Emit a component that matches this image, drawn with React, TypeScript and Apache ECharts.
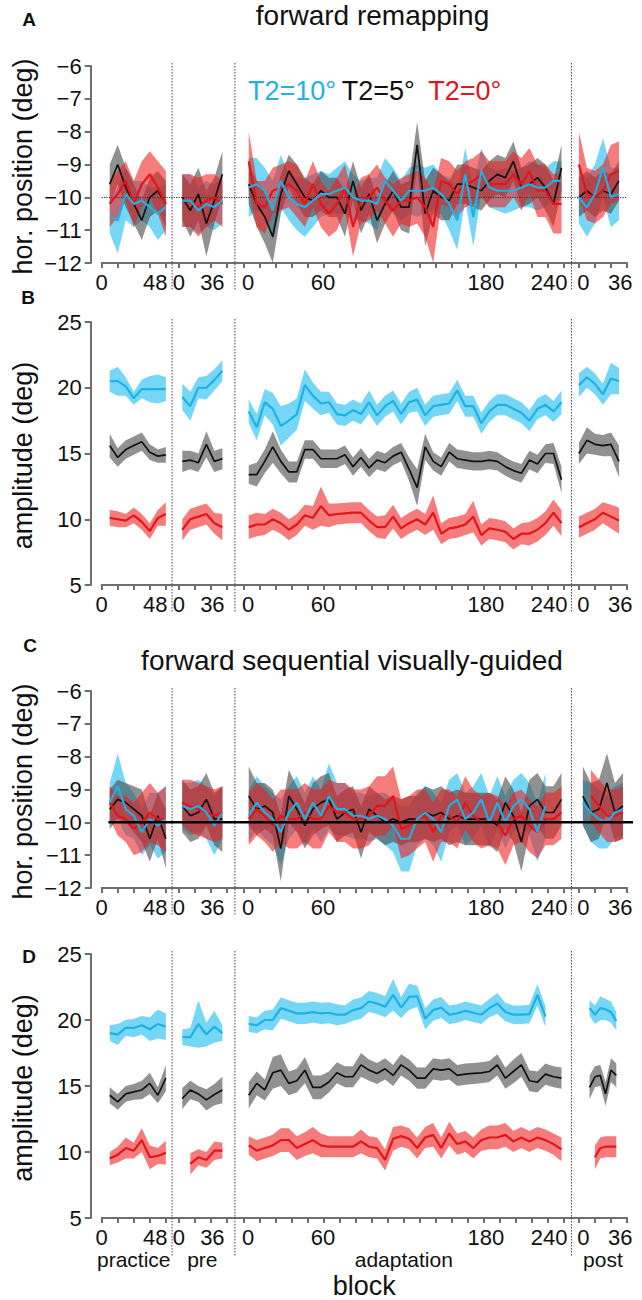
import React, { useEffect, useRef } from 'react';
import * as echarts from 'echarts';

const FONT = '"Liberation Sans", Arial, Helvetica, sans-serif';

// ---- x positions (block numbers inside each segment) ----
const practiceBlocks = [6, 12, 18, 24, 30, 36, 42, 48];
const preBlocks = [3, 9, 15, 21, 27, 33];
const adaptBlocks = [4, 10, 16, 22, 28, 34, 40, 46, 52, 58, 64, 70, 76, 82, 88, 94, 100, 106, 112, 118,
  124, 130, 136, 142, 148, 154, 160, 166, 172, 178, 184, 190, 196, 202, 208, 214, 220, 226, 232, 238];
const postBlocksA = [0, 6, 12, 18, 24, 30];
const postBlocksB = [0, 6, 12, 18, 24, 30];
const postBlocksC = [3, 9, 15, 21, 27, 33];
const postBlocksD = [8, 12, 16, 20, 24, 28];

// ---- axis ticks per segment ----
const practiceTicks = [0, 12, 24, 36, 48];
const preTicks = [0, 12, 24, 36];
const adaptTicks = [0, 12, 24, 36, 48, 60, 72, 84, 96, 108, 120, 132, 144, 156, 168, 180, 192, 204, 216, 228, 240];
const postTicks = [0, 12, 24, 36];

// ---- tick labels per segment: [position in segment, text] ----
const practiceLabels: [number, string][] = [[0, '0'], [40, '48']];
const preLabels: [number, string][] = [[0.5, '0'], [25.5, '36']];
const adaptLabels: [number, string][] = [[3.5, '0'], [59.6, '60'], [181.4, '180'], [228.8, '240']];
const postLabels: [number, string][] = [[3.3, '0'], [31, '36']];

const segmentNames = ['practice', 'pre', 'adaptation', 'post'];

// ---- Panel A: forward remapping, horizontal position ----
const A_cyanMean = [
  [-10.6, -10.7, -9.9, -10.2, -10.1, -10.3, -10.5, -10.3],
  [-10.1, -10.1, -10.4, -10.2, -10.3, -10.1],
  [-9.7, -9.6, -9.8, -10.4, -9.5, -10.0, -10.2, -10.3, -10.1, -9.9, -9.9, -9.8, -9.7, -10.0, -10.1, -10.1, -10.2, -9.5, -9.8, -10.1,
    -9.8, -9.8, -9.8, -9.7, -9.9, -10.2, -10.7, -9.3, -10.6, -9.2, -9.7, -9.8, -9.8, -9.8, -9.7, -9.6, -9.7, -9.7, -9.5, -9.5],
  [-10.0, -10.3, -9.9, -9.1, -10.0, -9.9],
];
const A_cyanErr = [
  [0.5, 1.0, 0.8, 0.7, 0.6, 0.6, 0.8, 0.7],
  [0.8, 0.8, 0.7, 0.7, 0.7, 0.7],
  [0.9, 0.8, 0.7, 0.9, 0.8, 0.7, 0.8, 0.9, 0.8, 0.7, 0.6, 0.7, 0.8, 0.7, 0.6, 0.7, 0.8, 0.7, 0.7, 0.6,
    0.7, 0.8, 0.7, 0.7, 0.6, 0.8, 0.9, 0.8, 0.9, 0.7, 0.6, 0.6, 0.7, 0.6, 0.6, 0.7, 0.7, 0.6, 0.6, 0.6],
  [0.8, 0.9, 0.9, 0.9, 0.9, 0.8],
];
const A_blackMean = [
  [-9.6, -9.0, -9.7, -10.2, -10.7, -10.0, -9.8, -10.2],
  [-10.0, -10.4, -9.9, -10.8, -10.1, -9.3],
  [-9.6, -10.2, -10.6, -11.2, -9.9, -9.2, -9.6, -10.0, -10.1, -9.8, -10.0, -10.0, -10.5, -9.5, -10.4, -9.9, -10.7, -10.2, -9.8, -10.3,
    -10.3, -8.4, -10.5, -9.8, -10.0, -10.1, -9.6, -9.6, -9.7, -9.8, -9.5, -9.3, -9.4, -8.9, -9.7, -9.6, -9.4, -9.7, -10.2, -9.1],
  [-10.0, -9.8, -10.0, -9.8, -9.9, -9.5],
];
const A_blackErr = [
  [0.6, 0.6, 0.6, 0.6, 0.6, 0.6, 0.6, 0.7],
  [0.7, 0.8, 0.8, 1.0, 0.7, 0.7],
  [0.6, 0.7, 0.8, 0.8, 0.6, 0.5, 0.6, 0.6, 0.5, 0.6, 0.6, 0.6, 0.7, 0.6, 0.7, 0.6, 0.7, 0.6, 0.6, 0.7,
    0.8, 0.7, 1.0, 0.7, 0.7, 0.6, 0.6, 0.6, 0.6, 0.6, 0.6, 0.6, 0.6, 0.6, 0.6, 0.6, 0.6, 0.7, 0.7, 0.7],
  [0.6, 0.6, 0.6, 0.6, 0.6, 0.6],
];
const A_redMean = [
  [-10.2, -9.9, -9.5, -10.2, -9.6, -9.3, -9.7, -10.2],
  [-10.1, -10.1, -10.3, -10.1, -10.0, -10.2],
  [-8.9, -10.2, -10.3, -9.8, -9.7, -9.6, -9.8, -10.2, -9.6, -10.2, -10.5, -10.2, -9.7, -10.9, -10.1, -10.0, -9.7, -10.1, -10.4, -10.1,
    -10.1, -10.0, -10.3, -10.9, -9.5, -9.6, -9.9, -9.6, -9.5, -9.3, -9.6, -9.6, -9.6, -9.3, -9.6, -9.2, -9.8, -9.8, -10.2, -10.2],
  [-9.0, -9.9, -10.0, -9.8, -9.3, -9.2],
];
const A_redErr = [
  [0.7, 0.7, 0.6, 0.7, 0.7, 0.7, 0.8, 1.0],
  [0.8, 0.8, 0.9, 0.8, 0.7, 0.7],
  [0.9, 0.7, 0.8, 0.7, 0.7, 0.7, 0.8, 0.7, 0.7, 0.7, 0.7, 0.8, 0.7, 0.9, 0.7, 0.7, 0.7, 0.7, 0.8, 0.7,
    0.8, 0.8, 0.9, 1.1, 0.7, 0.7, 0.7, 0.7, 0.7, 0.7, 0.7, 0.7, 0.7, 0.7, 0.8, 0.7, 0.8, 0.8, 0.9, 0.9],
  [1.0, 0.8, 0.8, 0.8, 0.9, 0.9],
];

// ---- Panel B: forward remapping, amplitude ----
const B_cyanMean = [
  [20.5, 20.5, 20.1, 19.2, 19.9, 19.9, 19.9, 19.9],
  [19.3, 18.6, 20.0, 20.0, 20.6, 21.3],
  [18.2, 17.0, 18.9, 18.4, 17.1, 17.5, 18.0, 20.2, 19.4, 18.8, 18.9, 18.0, 17.9, 18.3, 18.0, 18.9, 17.9, 18.6, 19.0, 18.0,
    18.9, 19.1, 17.9, 18.6, 18.7, 18.8, 19.8, 18.6, 18.6, 17.3, 18.2, 18.7, 18.7, 18.4, 18.1, 17.5, 18.4, 18.7, 18.2, 18.9],
  [20.2, 20.8, 20.3, 19.5, 20.7, 20.5],
];
const B_cyanErr = [
  [0.8, 1.1, 0.7, 0.5, 0.7, 1.0, 1.1, 0.9],
  [1.0, 1.1, 0.8, 0.9, 0.8, 0.8],
  [0.9, 1.0, 1.0, 1.2, 1.5, 1.3, 1.2, 1.2, 1.0, 0.9, 0.8, 0.8, 0.8, 0.8, 0.8, 0.9, 0.8, 0.8, 0.8, 0.8,
    0.8, 0.9, 0.8, 0.8, 0.8, 0.8, 0.8, 0.8, 0.8, 0.8, 0.8, 0.8, 0.8, 0.8, 0.8, 0.8, 0.8, 0.8, 0.8, 0.9],
  [0.9, 0.8, 0.8, 0.8, 1.2, 1.0],
];
const B_blackMean = [
  [15.6, 14.7, 15.3, 15.6, 15.9, 15.1, 14.8, 14.9],
  [14.4, 14.5, 14.3, 15.7, 14.4, 14.6],
  [13.4, 13.4, 14.4, 15.5, 14.4, 13.6, 13.6, 15.3, 15.3, 14.6, 14.6, 14.6, 14.9, 14.0, 14.7, 13.9, 14.5, 14.3, 14.8, 15.1,
    13.8, 12.4, 15.5, 14.4, 14.0, 15.1, 14.6, 14.5, 14.4, 14.4, 14.5, 14.4, 14.0, 13.7, 13.5, 14.5, 14.2, 15.0, 15.0, 13.0],
  [15.0, 16.0, 15.7, 15.6, 15.7, 14.4],
];
const B_blackErr = [
  [0.9, 0.7, 0.7, 0.7, 0.7, 0.6, 0.5, 0.6],
  [0.8, 0.7, 0.7, 1.0, 0.8, 0.8],
  [0.7, 0.9, 0.9, 1.2, 0.9, 0.8, 0.8, 0.7, 0.7, 0.7, 0.7, 0.7, 0.7, 0.7, 0.7, 0.7, 0.7, 0.7, 0.7, 0.7,
    0.9, 1.4, 1.0, 0.7, 0.7, 0.7, 0.7, 0.7, 0.7, 0.7, 0.7, 0.7, 0.7, 0.7, 0.7, 0.7, 0.7, 0.7, 0.8, 1.0],
  [0.8, 1.0, 0.8, 0.8, 0.9, 1.2],
];
const B_redMean = [
  [10.1, 10.0, 9.9, 10.3, 9.8, 9.1, 10.1, 10.4],
  [9.2, 10.0, 10.2, 10.4, 9.7, 9.4],
  [9.4, 9.6, 9.6, 10.0, 9.7, 9.2, 9.6, 10.3, 10.1, 11.0, 10.3, 10.4, 10.45, 10.5, 10.5, 9.9, 9.4, 9.4, 10.2, 9.3,
    9.7, 10.0, 9.6, 10.5, 8.9, 9.3, 9.4, 9.6, 10.2, 8.8, 9.3, 9.2, 9.05, 8.5, 8.9, 8.9, 9.2, 9.7, 10.5, 9.7],
  [9.4, 9.7, 10.0, 10.5, 10.2, 9.9],
];
const B_redErr = [
  [0.6, 0.6, 0.5, 0.6, 0.6, 0.6, 0.6, 0.9],
  [0.8, 0.8, 0.8, 0.8, 0.8, 1.0],
  [0.9, 0.9, 0.8, 0.8, 0.8, 0.8, 0.8, 0.8, 0.9, 1.5, 0.9, 0.8, 0.8, 0.8, 0.8, 0.8, 0.8, 0.9, 0.9, 0.8,
    0.8, 0.8, 0.8, 1.3, 0.8, 0.8, 0.8, 0.8, 1.2, 0.8, 0.8, 0.8, 0.8, 0.8, 0.8, 0.9, 0.9, 0.9, 1.0, 1.0],
  [0.8, 0.8, 0.8, 0.8, 0.9, 1.0],
];

// ---- Panel C: forward sequential visually-guided, horizontal position ----
const C_cyanMean = [
  [-9.4, -8.9, -9.6, -9.8, -10.3, -9.9, -10.1, -9.9],
  [-9.5, -9.6, -9.5, -9.7, -10.1, -9.7],
  [-9.8, -9.4, -9.7, -9.9, -10.3, -9.7, -9.4, -9.9, -9.4, -9.8, -9.2, -9.6, -9.6, -9.8, -9.8, -9.9, -9.8, -9.9, -10.1, -10.5,
    -10.5, -9.9, -9.7, -9.9, -10.3, -9.5, -9.3, -9.9, -9.7, -9.3, -10.0, -9.4, -10.0, -9.5, -9.3, -9.6, -10.3, -9.5, null, null],
  [-9.4, -9.7, -9.9, -10.0, -9.7, -9.6],
];
const C_cyanErr = [
  [0.6, 1.0, 0.8, 0.7, 0.7, 0.8, 1.0, 1.0],
  [0.7, 0.8, 0.8, 0.8, 0.9, 0.8],
  [0.8, 0.8, 0.8, 0.8, 1.0, 0.8, 0.8, 0.8, 0.8, 0.8, 1.0, 0.8, 0.8, 0.7, 0.7, 0.7, 0.7, 0.8, 0.8, 1.0,
    1.0, 0.8, 0.8, 0.8, 0.9, 0.8, 0.8, 0.8, 0.8, 0.8, 0.8, 0.8, 0.8, 0.8, 0.8, 0.8, 0.9, 1.0, null, null],
  [0.7, 0.9, 0.9, 0.8, 0.8, 0.8],
];
const C_blackMean = [
  [-9.6, -9.3, -9.4, -9.6, -9.8, -10.5, -9.8, -10.5],
  [-9.5, -9.8, -9.7, -9.3, -9.9, -9.9],
  [-9.2, -9.6, -9.5, -9.7, -10.8, -9.2, -9.6, -10.1, -9.6, -9.4, -9.3, -9.9, -9.7, -9.6, -10.3, -9.6, -9.8, -10.0, -9.9, -10.0,
    -9.9, -9.9, -9.7, -9.8, -9.7, -9.9, -9.8, -9.9, -9.9, -9.9, -9.9, -10.1, -9.4, -9.8, -10.6, -9.5, -9.3, -9.7, -9.7, -9.3],
  [-9.2, -9.7, -9.6, -8.8, -9.7, -9.5],
];
const C_blackErr = [
  [0.6, 0.6, 0.6, 0.7, 0.8, 0.7, 0.7, 0.9],
  [0.8, 0.8, 0.8, 0.8, 0.8, 1.0],
  [0.9, 0.8, 0.7, 0.7, 1.0, 0.8, 0.7, 0.7, 0.8, 0.8, 0.8, 0.7, 0.7, 0.7, 0.8, 0.7, 0.7, 0.7, 0.7, 0.7,
    0.7, 0.7, 0.8, 0.8, 0.8, 0.8, 0.8, 0.8, 0.8, 0.8, 0.8, 0.8, 0.8, 0.8, 0.9, 0.8, 0.8, 0.8, 0.8, 0.8],
  [0.9, 0.9, 0.9, 0.9, 0.9, 1.0],
];
const C_redMean = [
  [-9.4, -9.8, -9.9, -10.2, -10.0, -9.7, -9.9, -9.9],
  [-9.4, -9.5, -9.6, -9.7, -9.8, -9.7],
  [-9.9, -9.6, -9.8, -10.1, -9.8, -9.9, -9.9, -9.7, -9.9, -9.9, -9.5, -9.7, -9.7, -9.9, -9.9, -9.8, -9.5, -9.5, -9.2, -10.2,
    -10.1, -9.9, -9.8, -10.3, -9.8, -9.8, -10.0, -9.4, -9.8, -10.0, -9.9, -10.0, -10.4, -9.9, -9.8, -10.1, -10.3, -9.9, -9.9, -9.7],
  [null, -9.2, -9.5, -9.8, -9.8, -9.7],
];
const C_redErr = [
  [0.5, 0.6, 0.7, 0.8, 0.9, 0.9, 0.8, 1.0],
  [0.7, 0.8, 0.8, 0.8, 0.8, 0.8],
  [0.8, 0.8, 0.8, 0.8, 0.8, 0.9, 0.9, 0.9, 0.9, 0.9, 0.8, 0.9, 0.9, 0.9, 0.9, 0.9, 0.9, 0.9, 0.9, 0.9,
    0.9, 0.9, 0.8, 0.9, 0.8, 0.8, 0.8, 0.8, 0.8, 0.8, 0.8, 0.8, 0.9, 0.8, 0.8, 0.8, 0.8, 0.8, 0.8, 0.8],
  [null, 0.8, 0.8, 0.8, 0.8, 0.8],
];

// ---- Panel D: forward sequential visually-guided, amplitude ----
const D_cyanMean = [
  [19.0, 18.9, 19.4, 19.4, 19.6, 19.3, 19.7, 19.5],
  [18.7, 18.7, 19.7, 18.9, 19.5, 19.0],
  [19.7, 19.6, 20.0, 20.0, 20.9, 20.7, 20.5, 20.5, 20.6, 20.5, 20.55, 20.4, 20.4, 20.75, 20.9, 21.4, 21.25, 21.0, 21.9, 20.95,
    21.75, 21.8, 20.1, 20.75, 20.95, 20.4, 20.5, 20.7, 20.55, 20.4, 20.9, 21.25, 20.6, 20.4, 20.4, 20.45, 21.9, 20.25, null, null],
  [20.9, 20.4, 20.9, 20.8, 20.6, 19.9],
];
const D_cyanErr = [
  [0.6, 0.8, 0.6, 0.7, 0.7, 0.9, 1.1, 1.0],
  [0.6, 0.7, 1.8, 0.9, 1.2, 0.6],
  [0.6, 0.6, 0.7, 0.8, 0.8, 0.8, 0.8, 0.8, 0.8, 0.8, 0.8, 0.8, 0.7, 0.8, 0.8, 0.8, 0.8, 0.8, 1.2, 0.8,
    1.0, 0.8, 0.8, 0.8, 0.8, 0.7, 0.7, 0.7, 0.7, 0.7, 0.7, 0.8, 0.7, 0.7, 0.7, 0.7, 0.8, 0.8, null, null],
  [0.6, 0.7, 0.9, 0.8, 0.8, 0.7],
];
const D_blackMean = [
  [14.3, 13.8, 14.4, 14.55, 14.7, 15.2, 14.3, 15.6],
  [14.05, 14.7, 14.4, 13.95, 14.35, 14.7],
  [14.3, 15.2, 14.7, 16.0, 16.2, 15.2, 15.4, 16.2, 14.9, 14.9, 15.3, 16.0, 15.7, 15.7, 16.6, 16.2, 15.95, 16.3, 15.8, 16.6,
    16.2, 15.6, 15.6, 16.3, 16.2, 16.3, 15.8, 15.9, 15.95, 16.0, 16.1, 16.6, 15.6, 16.1, 16.6, 15.4, 15.3, 15.9, 15.7, 15.6],
  [14.9, 15.7, 15.8, 14.4, 16.2, 15.8],
];
const D_blackErr = [
  [0.6, 0.6, 0.6, 0.6, 0.7, 0.8, 0.6, 1.0],
  [0.8, 0.7, 0.6, 0.8, 0.8, 1.0],
  [1.0, 0.9, 0.8, 1.2, 1.2, 0.9, 0.9, 1.0, 0.9, 0.9, 0.8, 0.8, 0.8, 0.8, 0.9, 0.8, 0.8, 0.8, 0.8, 0.8,
    0.8, 0.8, 0.8, 0.8, 0.8, 0.8, 0.8, 0.8, 0.8, 0.8, 0.8, 0.8, 0.8, 0.9, 0.9, 0.8, 0.8, 0.8, 0.8, 0.8],
  [0.9, 0.8, 0.8, 0.9, 0.9, 0.9],
];
const D_redMean = [
  [9.5, 9.8, 10.3, 10.1, 10.9, 9.6, 9.7, 9.95],
  [null, 9.1, 9.6, 9.4, 10.1, 10.1],
  [10.5, 10.1, 10.3, 10.5, 10.9, 10.9, 10.3, 10.6, 10.9, 10.5, 10.4, 10.4, 10.4, 10.4, 10.8, 10.4, 10.3, 9.4, 11.0, 11.2,
    11.0, 10.3, 11.1, 11.3, 10.3, 11.4, 10.6, 10.8, 10.3, 10.9, 11.1, 11.1, 11.3, 10.8, 11.1, 10.8, 11.1, 10.9, 10.6, 10.2],
  [null, 9.6, 10.3, 10.4, 10.4, 10.4],
];
const D_redErr = [
  [0.5, 0.6, 0.8, 0.6, 0.9, 0.9, 0.6, 0.9],
  [null, 0.8, 0.6, 0.6, 0.7, 0.6],
  [0.7, 0.8, 0.8, 0.8, 0.9, 0.9, 0.9, 0.9, 1.0, 0.9, 0.8, 0.8, 0.8, 0.8, 0.9, 0.8, 0.8, 0.8, 0.9, 0.8,
    0.8, 0.8, 0.8, 0.9, 0.8, 0.9, 0.8, 0.8, 0.8, 0.8, 0.9, 0.9, 0.9, 0.8, 0.8, 0.8, 0.8, 0.8, 0.8, 0.9],
  [null, 0.9, 0.8, 0.8, 0.8, 0.8],
];

// ---- layout ----
const SEG_OFFSETS = [0, 57.3, 106, 357]; // where each segment's block 0 sits on the shared axis
const SEG_LENGTHS = [48, 36, 240, 36];
const SEG_TICKS = [practiceTicks, preTicks, adaptTicks, postTicks];
const SEG_LABELS = [practiceLabels, preLabels, adaptLabels, postLabels];
const X_MAX = 393;

const COLORS: Record<string, { line: string; band: string; width: number }> = {
  cyan: { line: '#1db1e4', band: 'rgba(52,196,240,0.68)', width: 2.2 },
  black: { line: '#111111', band: 'rgba(78,78,78,0.62)', width: 1.7 },
  red: { line: '#e3151b', band: 'rgba(240,30,30,0.58)', width: 2.2 },
};

type Panel = {
  yMin: number; yMax: number; yStep: number; top: number; height: number; sepExtra: number;
  post: number[]; data: Record<string, [(number | null)[][], (number | null)[][]]>;
};

const PANELS: Panel[] = [
  { yMin: -12, yMax: -6, yStep: 1, top: 66, height: 197, sepExtra: 27, post: postBlocksA,
    data: { cyan: [A_cyanMean, A_cyanErr], black: [A_blackMean, A_blackErr], red: [A_redMean, A_redErr] } },
  { yMin: 5, yMax: 25, yStep: 5, top: 322, height: 263, sepExtra: 27, post: postBlocksB,
    data: { cyan: [B_cyanMean, B_cyanErr], black: [B_blackMean, B_blackErr], red: [B_redMean, B_redErr] } },
  { yMin: -12, yMax: -6, yStep: 1, top: 691, height: 197, sepExtra: 27, post: postBlocksC,
    data: { cyan: [C_cyanMean, C_cyanErr], black: [C_blackMean, C_blackErr], red: [C_redMean, C_redErr] } },
  { yMin: 5, yMax: 25, yStep: 5, top: 954, height: 264, sepExtra: 39, post: postBlocksD,
    data: { cyan: [D_cyanMean, D_cyanErr], black: [D_blackMean, D_blackErr], red: [D_redMean, D_redErr] } },
];

const GRID_LEFT = 101.7;
const GRID_WIDTH = 525.3;
const AXIS_COLOR = '#6e6e6e';

const tickValues: number[] = [];
SEG_TICKS.forEach((ts, i) => ts.forEach((t) => tickValues.push(SEG_OFFSETS[i] + t)));
const labelDefs: { v: number; t: string }[] = [];
SEG_LABELS.forEach((ls, i) => ls.forEach(([p, t]) => labelDefs.push({ v: SEG_OFFSETS[i] + p, t })));

function labelFor(v: number): string {
  let best = labelDefs[0];
  labelDefs.forEach((d) => { if (Math.abs(d.v - v) < Math.abs(best.v - v)) best = d; });
  return Math.abs(best.v - v) < 0.01 ? best.t : '';
}

function buildOption() {
  const grid: any[] = [];
  const xAxis: any[] = [];
  const yAxis: any[] = [];
  const series: any[] = [];

  PANELS.forEach((panel, p) => {
    grid.push({ left: GRID_LEFT, width: GRID_WIDTH, top: panel.top, height: panel.height, containLabel: false, outerBoundsMode: 'none' });
    xAxis.push({
      type: 'value', gridIndex: p, min: 0, max: X_MAX,
      axisLine: { show: true, onZero: false, lineStyle: { color: AXIS_COLOR, width: 2 } },
      axisTick: { show: true, customValues: tickValues, length: 5, lineStyle: { color: AXIS_COLOR, width: 2 } },
      axisLabel: {
        show: true, customValues: labelDefs.map((d) => d.v), formatter: (v: number) => labelFor(v),
        fontSize: 22, lineHeight: 18, fontFamily: FONT, color: '#111', margin: 10,
      },
      splitLine: { show: false },
    });
    yAxis.push({
      type: 'value', gridIndex: p, min: panel.yMin, max: panel.yMax, interval: panel.yStep, offset: 11,
      axisLine: { show: true, onZero: false, lineStyle: { color: AXIS_COLOR, width: 2 } },
      axisTick: { show: true, length: 6, lineStyle: { color: AXIS_COLOR, width: 2 } },
      axisLabel: {
        fontSize: 22, fontFamily: FONT, color: '#111', margin: 9,
        formatter: (v: number) => String(v).replace('-', '\u2212'),
      },
      splitLine: { show: false },
    });

    const segBlocks = [practiceBlocks, preBlocks, adaptBlocks, panel.post];
    const bandOrder = ['cyan', 'black', 'red'];
    const lineOrder = ['black', 'red', 'cyan'];
    const built: Record<string, number[][][]> = {};

    bandOrder.forEach((cond) => {
      const [means, errs] = panel.data[cond];
      built[cond] = segBlocks.map((blocks, si) => {
        const pts: number[][] = [];
        blocks.forEach((b, j) => {
          const m = means[si][j];
          const e = errs[si][j];
          if (m == null || e == null) return;
          pts.push([SEG_OFFSETS[si] + b, m, m - e, m + e]);
        });
        return pts;
      });
    });

    bandOrder.forEach((cond, ci) => {
      built[cond].forEach((pts) => {
        if (!pts.length) return;
        const color = COLORS[cond].band;
        series.push({
          type: 'custom', xAxisIndex: p, yAxisIndex: p, silent: true, z: 1 + ci, clip: false,
          data: pts.map((d) => [d[0], d[2], d[3]]),
          encode: { x: 0, y: [1, 2] },
          renderItem: (params: any, api: any) => {
            if (params.dataIndex !== 0) return null;
            const up = pts.map((d) => api.coord([d[0], d[3]]));
            const lo = pts.map((d) => api.coord([d[0], d[2]])).reverse();
            const cs = params.coordSys;
            const poly = echarts.graphic.clipPointsByRect(up.concat(lo), { x: cs.x, y: cs.y, width: cs.width, height: cs.height });
            return { type: 'polygon', shape: { points: poly }, style: { fill: color, stroke: 'none' } };
          },
        });
      });
    });

    let first = true;
    lineOrder.forEach((cond, ci) => {
      built[cond].forEach((pts) => {
        if (!pts.length) return;
        const s: any = {
          type: 'line', xAxisIndex: p, yAxisIndex: p, silent: true, z: 6 + ci,
          data: pts.map((d) => [d[0], d[1]]), showSymbol: false, symbol: 'none',
          lineStyle: { color: COLORS[cond].line, width: COLORS[cond].width }, animation: false,
        };
        if (first && p === 0) {
          s.markLine = {
            silent: true, symbol: ['none', 'none'], label: { show: false }, animation: false,
            lineStyle: { type: 'dotted', color: '#333', width: 1.2 }, data: [{ yAxis: -10 }],
          };
        }
        first = false;
        series.push(s);
      });
    });
  });

  return { animation: false, backgroundColor: '#fff', grid, xAxis, yAxis, series };
}

function textEl(text: string, x: number, y: number, size: number, extra: any = {}) {
  return {
    type: 'text', x, y, silent: true, z: 20, rotation: extra.rotation || 0,
    style: {
      text, fontSize: size, fontFamily: FONT, fill: extra.fill || '#111', fontWeight: extra.bold ? 'bold' : 'normal',
      align: extra.align || 'center', verticalAlign: 'middle', lineHeight: extra.lineHeight || size,
    },
  };
}

export default function App() {
  const ref = useRef<HTMLDivElement>(null);
  useEffect(() => {
    document.body.style.margin = '0';
    const chart = echarts.init(ref.current as HTMLDivElement, null, { renderer: 'svg' });
    chart.setOption(buildOption());

    const g: any[] = [];
    // panel letters
    g.push(textEl('A', 29, 19, 19, { bold: true }));
    g.push(textEl('B', 28, 297, 19, { bold: true }));
    g.push(textEl('C', 30, 645, 19, { bold: true }));
    g.push(textEl('D', 29, 956, 19, { bold: true }));
    // titles
    g.push(textEl('forward remapping', 372.5, 15, 28));
    g.push(textEl('forward sequential visually-guided', 352, 660, 28));
    // legend
    g.push(textEl('T2=10\u00b0', 248, 91, 27, { align: 'left', fill: COLORS.cyan.line }));
    g.push(textEl('T2=5\u00b0', 341.7, 91, 27, { align: 'left', fill: '#111' }));
    g.push(textEl('T2=0\u00b0', 428.3, 91, 27, { align: 'left', fill: COLORS.red.line }));
    // y axis names
    const yNames = ['hor. position (deg)', 'amplitude (deg)', 'hor. position (deg)', 'amplitude (deg)'];

    PANELS.forEach((panel, p) => {
      const yTop = chart.convertToPixel({ yAxisIndex: p }, panel.yMax) as number;
      const yBot = chart.convertToPixel({ yAxisIndex: p }, panel.yMin) as number;
      g.push(textEl(yNames[p], 23, (yTop + yBot) / 2 + 2, 27, { rotation: Math.PI / 2 }));
      for (let i = 0; i < 3; i++) {
        const sv = (SEG_OFFSETS[i] + SEG_LENGTHS[i] + SEG_OFFSETS[i + 1]) / 2;
        const x = chart.convertToPixel({ xAxisIndex: p }, sv) as number;
        g.push({
          type: 'line', silent: true, z: 15,
          shape: { x1: x, y1: yTop - 3, x2: x, y2: yBot + panel.sepExtra },
          style: { stroke: '#444', lineWidth: 1, lineDash: [1.5, 1.5] },
        });
      }
      if (p === 2) {
        const y = chart.convertToPixel({ yAxisIndex: p }, -10) as number;
        const x1 = chart.convertToPixel({ xAxisIndex: p }, 5) as number;
        const x2 = chart.convertToPixel({ xAxisIndex: p }, 397.5) as number;
        g.push({ type: 'line', silent: true, z: 18, shape: { x1, y1: y, x2, y2: y }, style: { stroke: '#000', lineWidth: 2.5 } });
      }
      if (p === 3) {
        segmentNames.forEach((name, i) => {
          const cx = chart.convertToPixel({ xAxisIndex: p }, SEG_OFFSETS[i] + SEG_LENGTHS[i] / 2) as number;
          g.push(textEl(name, cx, yBot + 41.5, 21, { lineHeight: 18 }));
        });
        const bx = chart.convertToPixel({ xAxisIndex: p }, X_MAX / 2) as number;
        g.push(textEl('block', bx, yBot + 68, 27, { lineHeight: 22 }));
      }
    });

    chart.setOption({ graphic: g });
    return () => chart.dispose();
  }, []);
  return <div ref={ref} style={{ width: 642, height: 1300 }} />;
}
